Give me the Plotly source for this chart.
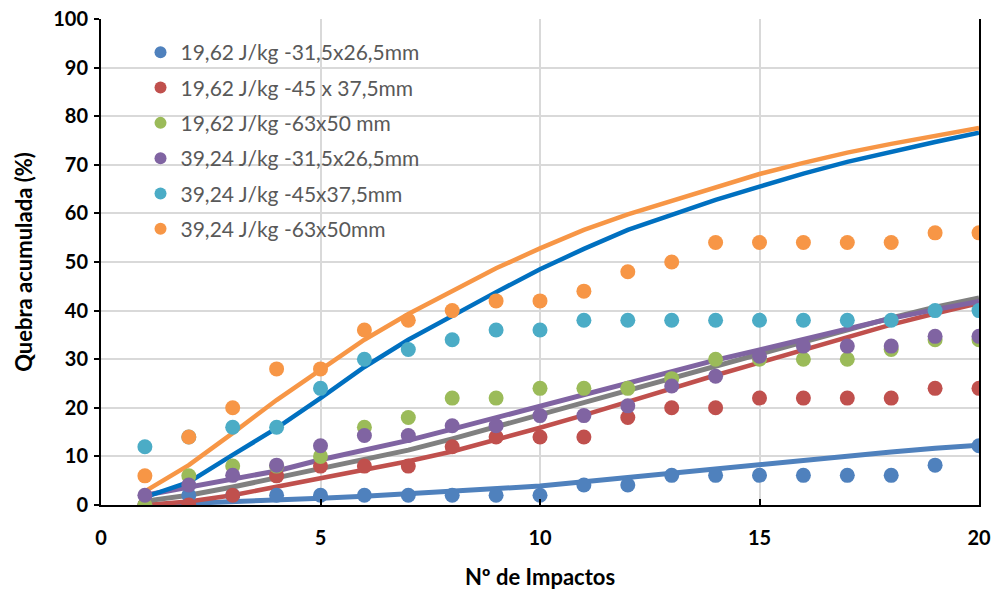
import plotly.graph_objects as go

impacts = list(range(1, 21))

# Measured cumulative breakage (%)
series_names = [
    "19,62 J/kg -31,5x26,5mm",
    "19,62 J/kg -45 x 37,5mm",
    "19,62 J/kg -63x50 mm",
    "39,24 J/kg -31,5x26,5mm",
    "39,24 J/kg -45x37,5mm",
    "39,24 J/kg -63x50mm",
]
s1 = [0, 2, 2, 2, 2, 2, 2, 2, 2, 2, 4.1, 4.1, 6.1, 6.1, 6.1, 6.1, 6.1, 6.1, 8.2, 12.2]
s2 = [0, 0, 2, 6, 8, 8, 8, 12, 14, 14, 14, 18, 20, 20, 22, 22, 22, 22, 24, 24]
s3 = [0, 6, 8, 8, 10, 16, 18, 22, 22, 24, 24, 24, 26, 30, 30, 30, 30, 32, 34, 34]
s4 = [2.0, 4.1, 6.1, 8.2, 12.2, 14.3, 14.3, 16.3, 16.3, 18.4, 18.4, 20.4, 24.5, 26.5, 30.6, 32.7, 32.7, 32.7, 34.7, 34.7]
s5 = [12, 14, 16, 16, 24, 30, 32, 34, 36, 36, 38, 38, 38, 38, 38, 38, 38, 38, 40, 40]
s6 = [6, 14, 20, 28, 28, 36, 38, 40, 42, 42, 44, 48, 50, 54, 54, 54, 54, 54, 56, 56]
series_values = [s1, s2, s3, s4, s5, s6]
series_colors = ["#4F81BD", "#C0504D", "#9BBB59", "#8064A2", "#4BACC6", "#F79646"]

# Model curves (%)
curve_steel = [0, 0.3, 0.7, 1.0, 1.4, 1.8, 2.3, 2.7, 3.2, 3.9, 4.8, 5.7, 6.5, 7.3, 8.2, 9.1, 10.0, 10.9, 11.7, 12.3]
curve_red = [0, 0.7, 2.0, 3.7, 5.4, 7.2, 9.0, 11.0, 13.4, 15.9, 18.5, 21.3, 24.0, 26.7, 29.3, 31.9, 34.5, 37.1, 39.4, 41.5]
curve_gray = [0.8, 2.0, 3.7, 5.6, 7.5, 9.4, 11.3, 13.6, 16.1, 18.6, 21.1, 23.7, 26.2, 28.7, 31.2, 33.7, 36.1, 38.5, 40.7, 42.6]
curve_purple = [2.0, 3.6, 5.3, 7.0, 9.3, 11.3, 13.3, 15.6, 18.0, 20.4, 22.8, 25.2, 27.6, 29.8, 31.9, 34.1, 36.3, 38.4, 40.2, 41.9]
curve_blue = [1.6, 4.7, 10.3, 15.8, 22.0, 28.4, 34.0, 39.0, 43.8, 48.5, 52.7, 56.6, 59.8, 62.8, 65.5, 68.2, 70.6, 72.7, 74.7, 76.6]
curve_orange = [2.8, 8.2, 14.8, 21.6, 27.8, 34.0, 39.3, 44.0, 48.7, 52.8, 56.6, 59.8, 62.6, 65.5, 68.1, 70.4, 72.5, 74.3, 76.0, 77.6]
curves = [
    (curve_steel, "#4F81BD", 5),
    (curve_red, "#C0504D", 4.5),
    (curve_gray, "#808080", 5),
    (curve_purple, "#8064A2", 5),
    (curve_blue, "#0070C0", 4.5),
    (curve_orange, "#F79646", 4.5),
]

fig = go.Figure()

for vals, col, w in curves:
    fig.add_trace(go.Scatter(
        x=impacts, y=vals, mode="lines",
        line=dict(color=col, width=w),
        showlegend=False, hoverinfo="skip",
    ))

for i, (name, vals, col) in enumerate(zip(series_names, series_values, series_colors)):
    fig.add_trace(go.Scatter(
        x=impacts, y=vals, mode="markers", name=name,
        marker=dict(color=col, size=15, line=dict(width=0)),
        legendgroup=f"g{i}",
    ))

font_family = "Lato, 'Open Sans', sans-serif"

fig.update_layout(
    width=995, height=590,
    margin=dict(l=101, r=16, t=19, b=85),
    paper_bgcolor="white", plot_bgcolor="white",
    font=dict(family=font_family, color="#000000"),
    showlegend=True,
    legend=dict(
        x=0.045, y=0.973, xanchor="left", yanchor="top",
        bgcolor="rgba(255,255,255,0)",
        font=dict(size=21, color="#595959", family=font_family),
        traceorder="grouped", tracegroupgap=5,
        itemsizing="constant",
    ),
    xaxis=dict(
        range=[0, 20], dtick=5, tick0=0, automargin=False,
        showgrid=True, gridcolor="#D9D9D9", gridwidth=1.5,
        showline=True, linecolor="black", linewidth=2,
        ticks="inside", ticklen=6, tickcolor="black", tickwidth=2,
        tickfont=dict(size=20, family=font_family, color="black", weight="bold"),
        ticklabelstandoff=14,
        title=dict(text="<b>Nº de Impactos</b>", font=dict(size=22, family=font_family, color="black"), standoff=22),
        zeroline=False,
    ),
    yaxis=dict(
        range=[0, 100], dtick=10, tick0=0, automargin=False,
        showgrid=True, gridcolor="#D9D9D9", gridwidth=1.5,
        showline=True, linecolor="black", linewidth=2, mirror=True,
        ticks="outside", ticklen=5, tickcolor="black", tickwidth=2,
        tickfont=dict(size=20, family=font_family, color="black", weight="bold"),
        ticklabelstandoff=2,
        title=dict(text="<b>Quebra acumulada (%)</b>", font=dict(size=22, family=font_family, color="black"), standoff=14),
        zeroline=False,
    ),
)

fig.write_html("out.html")
